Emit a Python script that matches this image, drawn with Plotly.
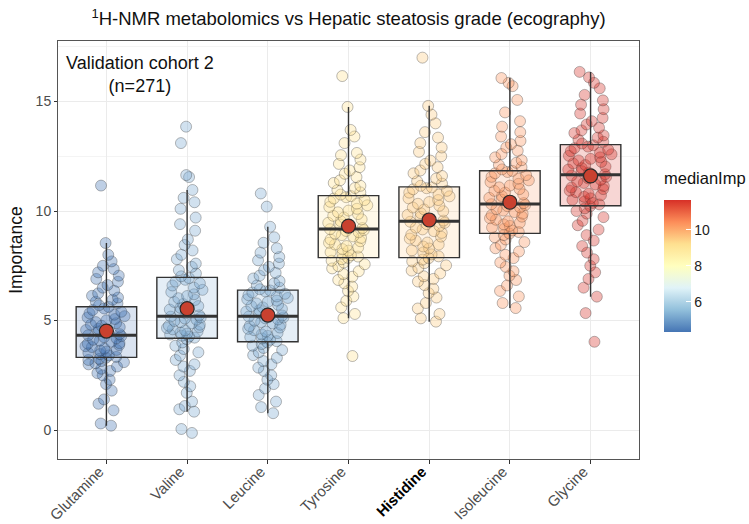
import plotly.graph_objects as go
from plotly.colors import sample_colorscale

# ---------------- data ----------------
categories = ["Glutamine", "Valine", "Leucine", "Tyrosine", "Histidine", "Isoleucine", "Glycine"]

q1 = [3.32, 4.19, 4.03, 7.87, 7.87, 8.98, 10.24]
medians = [4.33, 5.20, 5.20, 9.18, 9.53, 10.32, 11.65]
q3 = [5.63, 6.97, 6.39, 10.70, 11.10, 11.84, 13.03]
lower_whisker = [0.20, 0.84, 0.77, 5.11, 4.95, 5.57, 6.09]
upper_whisker = [8.54, 10.96, 9.28, 14.75, 14.80, 16.07, 16.35]
means = [4.52, 5.54, 5.25, 9.31, 9.59, 10.40, 11.60]

glutamine = [0.2, 0.3, 0.9, 1.2, 1.4, 1.8, 2.1, 2.3, 2.5, 2.6, 2.7, 2.8, 2.9, 3.0, 3.05, 3.1, 3.15, 3.2, 3.25, 3.3,
             3.34, 3.41, 3.47, 3.52, 3.58, 3.63, 3.66, 3.72, 3.79, 3.83, 3.88, 3.94, 3.97, 4.03, 4.08, 4.12, 4.19, 4.24, 4.29, 4.33,
             4.38, 4.45, 4.51, 4.57, 4.62, 4.7, 4.76, 4.81, 4.88, 4.93, 5.01, 5.07, 5.14, 5.2, 5.27, 5.33, 5.4, 5.48, 5.55, 5.62,
             5.7, 5.78, 5.86, 5.95, 6.05, 6.13, 6.24, 6.36, 6.5, 6.62, 6.77, 6.9, 7.05, 7.2, 7.35, 7.5, 7.7, 8.0, 8.54, 11.16]
valine = [-0.13, 0.05, 0.84, 0.95, 1.1, 1.3, 1.7, 2.0, 2.2, 2.5, 2.7, 2.9, 3.0, 3.2, 3.4, 3.55, 3.7, 3.85, 4.0, 4.15,
          4.22, 4.27, 4.31, 4.36, 4.4, 4.45, 4.5, 4.55, 4.6, 4.66, 4.7, 4.76, 4.81, 4.87, 4.93, 4.98, 5.04, 5.09, 5.14, 5.18,
          5.24, 5.33, 5.41, 5.5, 5.58, 5.66, 5.75, 5.85, 5.94, 6.02, 6.12, 6.2, 6.3, 6.4, 6.5, 6.6, 6.7, 6.78, 6.86, 6.94,
          7.02, 7.15, 7.3, 7.45, 7.6, 7.8, 8.0, 8.2, 8.45, 8.7, 9.1, 9.4, 9.7, 10.1, 10.4, 10.6, 10.96, 11.55, 11.64, 13.1, 13.85]
leucine = [0.77, 1.05, 1.3, 1.6, 1.9, 2.1, 2.3, 2.5, 2.7, 2.85, 3.0, 3.15, 3.3, 3.42, 3.55, 3.65, 3.75, 3.85, 3.93, 4.0,
           4.06, 4.12, 4.18, 4.24, 4.3, 4.37, 4.43, 4.5, 4.56, 4.62, 4.68, 4.75, 4.81, 4.87, 4.93, 4.99, 5.05, 5.1, 5.14, 5.18,
           5.23, 5.29, 5.35, 5.41, 5.47, 5.53, 5.6, 5.66, 5.72, 5.78, 5.85, 5.91, 5.97, 6.03, 6.1, 6.16, 6.22, 6.28, 6.33, 6.37,
           6.43, 6.5, 6.6, 6.7, 6.8, 6.92, 7.05, 7.18, 7.3, 7.45, 7.6, 7.75, 7.9, 8.1, 8.3, 8.55, 8.8, 9.28, 10.2, 10.8]
tyrosine = [3.38, 5.11, 5.3, 5.6, 5.9, 6.1, 6.35, 6.55, 6.7, 6.85, 7.0, 7.12, 7.25, 7.38, 7.48, 7.57, 7.65, 7.73, 7.8, 7.86,
            7.92, 7.98, 8.05, 8.12, 8.19, 8.26, 8.33, 8.4, 8.47, 8.55, 8.62, 8.7, 8.77, 8.84, 8.9, 8.97, 9.03, 9.09, 9.13, 9.17,
            9.22, 9.3, 9.38, 9.46, 9.54, 9.62, 9.7, 9.78, 9.86, 9.94, 10.02, 10.1, 10.18, 10.26, 10.34, 10.42, 10.5, 10.57, 10.63, 10.68,
            10.75, 10.85, 10.95, 11.05, 11.15, 11.28, 11.4, 11.55, 11.7, 11.85, 12.0, 12.15, 12.35, 12.55, 12.65, 13.1, 13.4, 13.7, 14.75, 16.16]
histidine = [4.95, 5.1, 5.3, 5.55, 5.8, 6.05, 6.25, 6.45, 6.62, 6.78, 6.9, 7.02, 7.15, 7.28, 7.4, 7.52, 7.62, 7.7, 7.78, 7.85,
             7.93, 8.02, 8.11, 8.2, 8.29, 8.38, 8.47, 8.56, 8.65, 8.74, 8.83, 8.92, 9.0, 9.08, 9.16, 9.24, 9.32, 9.4, 9.46, 9.51,
             9.56, 9.65, 9.73, 9.82, 9.9, 9.99, 10.07, 10.16, 10.24, 10.33, 10.41, 10.5, 10.58, 10.67, 10.75, 10.84, 10.92, 10.99, 11.04, 11.08,
             11.15, 11.25, 11.36, 11.48, 11.6, 11.72, 11.85, 12.0, 12.15, 12.3, 12.5, 12.7, 12.9, 13.1, 13.35, 13.6, 14.0, 14.4, 14.8, 17.0]
isoleucine = [5.57, 5.8, 6.1, 6.35, 6.6, 6.85, 7.05, 7.25, 7.45, 7.65, 7.85, 8.0, 8.15, 8.3, 8.45, 8.58, 8.7, 8.8, 8.9, 8.97,
              9.04, 9.11, 9.18, 9.25, 9.32, 9.39, 9.46, 9.53, 9.6, 9.67, 9.74, 9.81, 9.88, 9.95, 10.02, 10.09, 10.16, 10.22, 10.27, 10.31,
              10.36, 10.44, 10.52, 10.6, 10.68, 10.76, 10.84, 10.92, 11.0, 11.08, 11.16, 11.24, 11.32, 11.4, 11.48, 11.56, 11.64, 11.72, 11.78, 11.83,
              11.9, 12.0, 12.1, 12.2, 12.32, 12.45, 12.6, 12.75, 12.9, 13.05, 13.2, 13.4, 13.6, 13.85, 14.1, 14.5, 15.07, 15.7, 15.85, 16.07]
glycine = [4.03, 5.34, 6.09, 6.5, 6.9, 7.2, 7.5, 7.8, 8.1, 8.4, 8.65, 8.9, 9.15, 9.35, 9.55, 9.72, 9.88, 10.0, 10.12, 10.22,
           10.3, 10.37, 10.44, 10.51, 10.58, 10.65, 10.72, 10.79, 10.86, 10.93, 11.0, 11.07, 11.14, 11.21, 11.28, 11.35, 11.42, 11.49, 11.56, 11.62,
           11.68, 11.75, 11.82, 11.89, 11.96, 12.03, 12.1, 12.17, 12.24, 12.31, 12.38, 12.45, 12.52, 12.59, 12.66, 12.73, 12.8, 12.87, 12.94, 13.0,
           13.08, 13.16, 13.25, 13.35, 13.45, 13.56, 13.68, 13.8, 13.95, 14.1, 14.25, 14.45, 14.65, 14.85, 15.05, 15.3, 15.6, 15.85, 16.1, 16.35]

samples = [glutamine, valine, leucine, tyrosine, histidine, isoleucine, glycine]

y_ticks = [0, 5, 10, 15]
cbar_ticks = [6, 8, 10]

# ---------------- styling ----------------
FONT = "Liberation Sans, Arial, sans-serif"
rdylbu_rev = [[0.0, "#4575B4"], [1/6, "#91BFDB"], [2/6, "#E0F3F8"], [3/6, "#FFFFBF"],
              [4/6, "#FEE090"], [5/6, "#FC8D59"], [1.0, "#D73027"]]
cmin, cmax = min(medians), max(medians)
BOX_W = 0.75

# plot panel in pixels
L, R, T, B = 58, 639, 41, 459
PW, PH = R - L, B - T


def group_rgb(m):
    c = sample_colorscale(rdylbu_rev, [(m - cmin) / (cmax - cmin)])[0]
    return tuple(int(float(v)) for v in c[c.index("(") + 1:-1].split(","))


fig = go.Figure()
xs = list(range(len(categories)))

# jittered points (library jitter)
for i, (vals, m) in enumerate(zip(samples, medians)):
    r, g, b = group_rgb(m)
    fig.add_trace(go.Box(
        x=[i] * len(vals), y=vals, width=BOX_W,
        boxpoints="all", jitter=0.75, pointpos=0,
        fillcolor="rgba(0,0,0,0)", line=dict(width=0, color="rgba(0,0,0,0)"),
        marker=dict(size=11, color=f"rgba({r},{g},{b},0.35)",
                    line=dict(color="rgba(30,30,30,0.38)", width=0.8)),
        showlegend=False, hoverinfo="skip"))

# boxes from summary stats
for i, m in enumerate(medians):
    r, g, b = group_rgb(m)
    fig.add_trace(go.Box(
        x=[i], q1=[q1[i]], median=[medians[i]], q3=[q3[i]],
        lowerfence=[lower_whisker[i]], upperfence=[upper_whisker[i]],
        width=BOX_W, whiskerwidth=0, boxpoints=False,
        fillcolor=f"rgba({r},{g},{b},0.2)", line=dict(color="#333333", width=1.4),
        showlegend=False, hoverinfo="skip"))

# thick median bars
mx, my = [], []
for i, m in enumerate(medians):
    mx += [i - BOX_W / 2, i + BOX_W / 2, None]
    my += [m, m, None]
fig.add_trace(go.Scatter(x=mx, y=my, mode="lines", line=dict(color="#333333", width=3),
                         showlegend=False, hoverinfo="skip"))

# means
fig.add_trace(go.Scatter(x=xs, y=means, mode="markers",
                         marker=dict(size=14, color="#C9412F", line=dict(color="#2A2A2A", width=1.2)),
                         showlegend=False, hoverinfo="skip"))

# colourbar (title drawn as annotation so it does not push the margins)
fig.add_trace(go.Scatter(
    x=[None], y=[None], mode="markers", showlegend=False, hoverinfo="skip",
    marker=dict(color=[cmin], colorscale=rdylbu_rev, cmin=cmin, cmax=cmax, showscale=True,
                colorbar=dict(
                    x=(664 - L) / PW, xanchor="left",
                    y=(B - 332) / PH, yanchor="bottom",
                    len=132, lenmode="pixels", thickness=27, thicknessmode="pixels",
                    tickvals=cbar_ticks, ticks="inside", ticklen=5, tickcolor="white",
                    tickfont=dict(size=14, color="#222", family=FONT),
                    outlinewidth=0, xpad=0, ypad=0))))

ticktext = [f"<b><span style='color:black'>{c}</span></b>" if c == "Histidine" else c for c in categories]

fig.update_layout(
    width=749, height=524,
    margin=dict(l=L, r=749 - R, t=T, b=524 - B, autoexpand=False),
    paper_bgcolor="white", plot_bgcolor="white",
    font=dict(family=FONT),
    boxmode="overlay",
    title=dict(text="<sup>1</sup>H-NMR metabolomics vs Hepatic steatosis grade (ecography)",
               x=(L + R) / 2 / 749, xanchor="center", y=1 - 19 / 524, yanchor="middle",
               font=dict(size=18.5, color="#111", family=FONT)),
    xaxis=dict(range=[-0.6, 6.6], tickmode="array", tickvals=xs, ticktext=ticktext, automargin=False,
               tickangle=-45, tickfont=dict(size=15, color="#4D4D4D", family=FONT),
               ticklabelshift=-7, ticklabelstandoff=-7,
               showgrid=True, gridcolor="#EBEBEB", gridwidth=1, zeroline=False,
               ticks="outside", ticklen=4, tickcolor="#333333",
               showline=True, mirror=True, linecolor="#555555", linewidth=1),
    yaxis=dict(range=[-1.32, 17.76], tickmode="array", tickvals=y_ticks, automargin=False,
               tickfont=dict(size=14, color="#4D4D4D", family=FONT),
               title=dict(text="Importance", font=dict(size=17.5, color="#111", family=FONT), standoff=8),
               showgrid=True, gridcolor="#EBEBEB", gridwidth=1, zeroline=False,
               minor=dict(dtick=2.5, tick0=0, showgrid=True, gridcolor="#F4F4F4", gridwidth=0.6),
               ticks="outside", ticklen=3, tickcolor="#333333",
               showline=True, mirror=True, linecolor="#555555", linewidth=1),
    annotations=[
        dict(text="Validation cohort 2<br>(n=271)", xref="paper", yref="paper",
             x=(140 - L) / PW, y=1 - (74 - T) / PH, xanchor="center", yanchor="middle",
             showarrow=False, font=dict(size=18, color="#111", family=FONT)),
        dict(text="medianImp", xref="paper", yref="paper",
             x=(664 - L) / PW, y=(B - 178) / PH, xanchor="left", yanchor="middle",
             showarrow=False, xshift=-2, font=dict(size=16.5, color="#111", family=FONT)),
    ],
)

fig.write_html("out.html")
